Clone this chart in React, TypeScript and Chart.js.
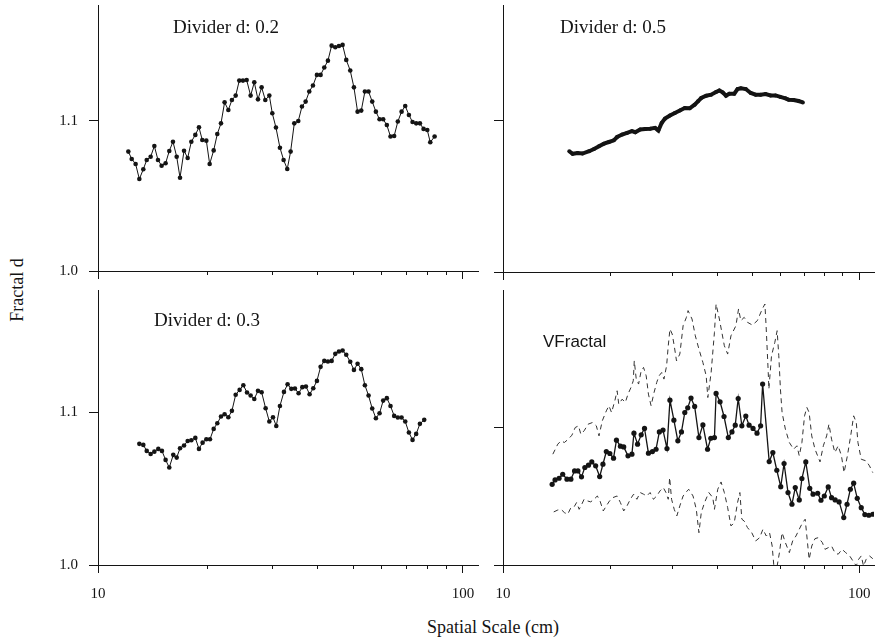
import React, { useEffect, useRef } from "react";
import { Chart, registerables } from "chart.js";

Chart.register(...registerables);

// ---------- tick values ----------
const X_MAJOR = [10, 100];
const X_MINOR = [20, 30, 40, 50, 60, 70, 80, 90];
const Y_TICKS = [1.0, 1.1];

// ---------- Divider d: 0.2 ----------
const D02_X = [12.11, 12.37, 12.68, 12.98, 13.31, 13.6, 13.94, 14.27, 14.6, 14.94, 15.32, 15.68, 16.05, 16.43, 16.78, 17.21, 17.61, 18.02, 18.48, 18.91, 19.31, 19.81, 20.23, 20.75, 21.23, 21.73, 22.23, 22.76, 23.28, 23.84, 24.39, 24.96, 25.55, 26.2, 26.81, 27.44, 28.08, 28.74, 29.48, 30.04, 30.74, 31.52, 32.26, 33.01, 33.72, 34.51, 35.39, 36.22, 37.07, 37.93, 38.82, 39.81, 40.74, 41.7, 42.67, 43.68, 44.7, 45.74, 46.81, 47.9, 49.12, 50.28, 51.45, 52.66, 53.88, 55.14, 56.43, 57.75, 59.1, 60.47, 61.88, 63.33, 64.81, 66.32, 67.92, 69.5, 71.13, 72.78, 74.47, 76.24, 78.02, 79.87, 81.39, 83.65];
const D02_Y = [1.0796, 1.0747, 1.0713, 1.0613, 1.0678, 1.074, 1.0762, 1.0833, 1.074, 1.0702, 1.0718, 1.08, 1.0862, 1.0762, 1.0622, 1.0802, 1.0753, 1.0862, 1.0907, 1.0958, 1.0873, 1.0869, 1.0713, 1.0804, 1.0913, 1.0984, 1.1124, 1.1073, 1.114, 1.1169, 1.1269, 1.1269, 1.1273, 1.1169, 1.1258, 1.1144, 1.1224, 1.114, 1.1169, 1.1051, 1.0956, 1.0822, 1.074, 1.068, 1.0796, 1.0984, 1.1, 1.1096, 1.1129, 1.1196, 1.1236, 1.1307, 1.1307, 1.1356, 1.1402, 1.1502, 1.1491, 1.15, 1.1507, 1.1407, 1.1336, 1.1224, 1.1062, 1.1069, 1.1196, 1.1196, 1.1129, 1.1062, 1.1011, 1.1011, 1.0973, 1.0896, 1.09, 1.0996, 1.1062, 1.11, 1.104, 1.0993, 1.0984, 1.0984, 1.0947, 1.094, 1.0858, 1.0896];

// ---------- Divider d: 0.5 ----------
const D05_X = [15.35, 15.68, 16.19, 16.72, 17.45, 18.01, 18.6, 19.2, 19.83, 20.47, 20.91, 21.6, 22.29, 23.01, 23.51, 24.27, 25.06, 25.88, 26.72, 27.3, 27.88, 28.49, 29.42, 30.37, 31.36, 32.38, 33.43, 34.51, 35.26, 36.01, 37.19, 38.39, 39.63, 40.49, 41.37, 42.26, 43.17, 44.58, 45.54, 46.52, 48.03, 49.59, 51.2, 52.87, 54.58, 56.36, 58.19, 60.08, 62.03, 63.37, 65.43, 67.55, 69.45];
const D05_Y = [1.0796, 1.0779, 1.0785, 1.0781, 1.0796, 1.0811, 1.0829, 1.0846, 1.0857, 1.0868, 1.089, 1.0906, 1.0917, 1.0928, 1.0921, 1.0939, 1.0943, 1.0945, 1.095, 1.0932, 1.0982, 1.1011, 1.1031, 1.1048, 1.1064, 1.1081, 1.1079, 1.1103, 1.1125, 1.1147, 1.1162, 1.1169, 1.1186, 1.1197, 1.1184, 1.1162, 1.1175, 1.1175, 1.1206, 1.1211, 1.1206, 1.118, 1.1169, 1.1169, 1.1173, 1.1164, 1.1164, 1.1154, 1.1145, 1.1136, 1.1134, 1.1127, 1.1118];

// ---------- Divider d: 0.3 ----------
const D03_X = [12.98, 13.31, 13.6, 13.94, 14.27, 14.63, 14.97, 15.32, 15.68, 16.08, 16.43, 16.78, 17.21, 17.61, 18.02, 18.48, 18.91, 19.35, 19.81, 20.27, 20.75, 21.23, 21.73, 22.23, 22.76, 23.28, 23.84, 24.44, 25.02, 25.61, 26.2, 26.81, 27.44, 28.08, 28.8, 29.48, 30.17, 30.8, 31.52, 32.33, 33.08, 33.86, 34.65, 35.46, 36.3, 37.14, 38.01, 38.9, 39.81, 40.74, 41.7, 42.67, 43.68, 44.7, 45.74, 46.81, 47.9, 49.12, 50.28, 51.45, 52.66, 53.88, 55.14, 56.43, 57.75, 59.1, 60.47, 61.88, 63.33, 64.81, 66.32, 67.92, 69.5, 71.13, 72.78, 74.47, 76.24, 78.35];
const D03_Y = [1.0793, 1.0786, 1.0747, 1.0727, 1.0742, 1.076, 1.0747, 1.0688, 1.0638, 1.0721, 1.0703, 1.0764, 1.0782, 1.0812, 1.0817, 1.0832, 1.076, 1.0801, 1.0823, 1.0823, 1.0891, 1.0928, 1.0972, 1.0987, 1.0967, 1.1009, 1.1114, 1.1146, 1.1177, 1.1129, 1.1109, 1.1087, 1.114, 1.1131, 1.1026, 1.0939, 1.0967, 1.091, 1.1041, 1.1133, 1.1183, 1.1153, 1.1155, 1.1124, 1.1164, 1.1168, 1.1118, 1.1157, 1.1205, 1.1297, 1.1336, 1.1332, 1.1336, 1.1382, 1.1397, 1.1404, 1.1376, 1.133, 1.1277, 1.1317, 1.1282, 1.1177, 1.1109, 1.1024, 1.0961, 1.0993, 1.1076, 1.1092, 1.1041, 1.0976, 1.0965, 1.0965, 1.0939, 1.0867, 1.0819, 1.0858, 1.0924, 1.095];

// ---------- VFractal (mean) ----------
const VF_X = [13.74, 14.0, 14.37, 14.71, 15.12, 15.51, 15.88, 16.23, 16.61, 16.97, 17.37, 17.75, 18.2, 18.68, 19.08, 19.5, 19.95, 20.43, 20.82, 21.36, 21.82, 22.43, 23.01, 23.31, 23.86, 24.43, 24.96, 25.6, 26.27, 26.89, 27.47, 28.13, 28.86, 29.42, 30.18, 30.96, 31.69, 32.38, 33.0, 33.71, 34.51, 35.48, 36.4, 37.51, 38.31, 39.22, 39.64, 40.67, 41.73, 42.9, 43.92, 44.87, 45.73, 46.82, 48.03, 49.07, 50.34, 51.64, 52.86, 53.55, 55.88, 57.21, 58.69, 60.21, 61.51, 63.1, 64.73, 66.13, 67.86, 69.03, 70.79, 72.62, 74.19, 76.43, 78.08, 79.77, 81.84, 83.61, 85.59, 87.8, 90.47, 92.41, 94.41, 96.45, 98.72, 101.29, 103.69, 106.38, 109.14];
const VF_Y = [1.0587, 1.0619, 1.0631, 1.066, 1.0624, 1.0624, 1.0684, 1.0684, 1.0641, 1.0709, 1.0726, 1.075, 1.0721, 1.0643, 1.0733, 1.0825, 1.0811, 1.0777, 1.0908, 1.0864, 1.0859, 1.0794, 1.0806, 1.0959, 1.0879, 1.0947, 1.0993, 1.0813, 1.0825, 1.0842, 1.0968, 1.0981, 1.0847, 1.1199, 1.1053, 1.0903, 1.0968, 1.1109, 1.1143, 1.1214, 1.1153, 1.0927, 1.1019, 1.0842, 1.0922, 1.0927, 1.1248, 1.1187, 1.108, 1.0927, 1.0968, 1.1017, 1.1211, 1.1012, 1.1083, 1.1017, 1.0993, 1.0959, 1.1012, 1.1316, 1.0752, 1.0818, 1.0689, 1.057, 1.0738, 1.0527, 1.0442, 1.0563, 1.0473, 1.0629, 1.075, 1.0558, 1.0515, 1.0522, 1.0471, 1.0502, 1.0568, 1.049, 1.0473, 1.0459, 1.0345, 1.0442, 1.0551, 1.0595, 1.0485, 1.0417, 1.0367, 1.0362, 1.0369];

// ---------- VFractal upper bound ----------
const VF_UP_X = [13.8, 14.25, 14.55, 14.87, 15.25, 15.61, 15.95, 16.29, 16.54, 16.89, 17.33, 17.82, 18.28, 18.6, 19.0, 19.5, 19.83, 20.17, 20.6, 20.91, 21.13, 21.6, 22.05, 22.43, 22.87, 23.21, 23.36, 23.66, 24.02, 24.43, 24.8, 25.23, 25.6, 26.04, 26.55, 27.01, 27.42, 27.89, 28.3, 28.79, 29.1, 29.42, 29.85, 30.24, 30.69, 31.36, 32.03, 32.72, 33.07, 33.93, 34.66, 35.48, 36.4, 37.18, 37.58, 38.39, 39.22, 39.64, 40.49, 41.81, 42.72, 43.64, 45.06, 45.83, 46.52, 47.53, 48.56, 50.12, 51.75, 53.43, 54.35, 54.82, 55.53, 55.76, 56.72, 57.94, 58.82, 59.45, 60.08, 60.73, 62.03, 63.64, 65.43, 66.83, 67.86, 69.03, 70.22, 71.27, 72.33, 73.56, 75.13, 77.6, 79.28, 80.99, 82.21, 83.61, 85.42, 87.25, 89.13, 90.66, 92.61, 94.61, 96.45, 98.1, 99.15, 101.29, 104.57, 106.83, 109.14];
const VF_UP_Y = [1.0806, 1.0879, 1.0903, 1.0891, 1.0915, 1.0944, 1.1, 1.1012, 1.0951, 1.0976, 1.1024, 1.1036, 1.1012, 1.0939, 1.1049, 1.1121, 1.1158, 1.1109, 1.1194, 1.1267, 1.117, 1.1206, 1.1182, 1.1243, 1.1291, 1.134, 1.1485, 1.1352, 1.1316, 1.1413, 1.1437, 1.1376, 1.1243, 1.1158, 1.1255, 1.1328, 1.1376, 1.14, 1.1352, 1.1449, 1.1595, 1.1716, 1.168, 1.1595, 1.1485, 1.1534, 1.174, 1.1801, 1.185, 1.1789, 1.1667, 1.157, 1.1473, 1.1376, 1.1218, 1.14, 1.1692, 1.1898, 1.1789, 1.1595, 1.1534, 1.1667, 1.174, 1.1862, 1.1777, 1.1801, 1.1765, 1.1745, 1.1777, 1.1862, 1.1898, 1.1716, 1.14, 1.1279, 1.1522, 1.1619, 1.1704, 1.1522, 1.1279, 1.1109, 1.0988, 1.0891, 1.0842, 1.0867, 1.0794, 1.0891, 1.1085, 1.1146, 1.1109, 1.0939, 1.0842, 1.075, 1.0867, 1.0939, 1.1024, 1.0915, 1.0818, 1.0867, 1.0794, 1.0672, 1.0794, 1.0939, 1.1085, 1.1036, 1.0891, 1.0769, 1.0757, 1.0721, 1.0672];

// ---------- VFractal lower bound ----------
const VF_LO_X = [13.88, 14.25, 14.55, 14.87, 15.19, 15.51, 15.85, 16.09, 16.36, 16.64, 16.89, 17.26, 17.63, 18.01, 18.4, 18.72, 19.12, 19.5, 19.91, 20.34, 20.91, 21.36, 21.82, 22.29, 22.77, 23.26, 23.76, 24.27, 24.8, 25.33, 25.88, 26.44, 27.01, 27.59, 28.18, 28.67, 29.1, 29.36, 29.73, 30.24, 30.76, 31.36, 32.03, 32.59, 33.21, 34.15, 34.88, 35.48, 36.02, 36.79, 37.82, 38.8, 39.22, 40.07, 40.93, 41.81, 42.72, 43.64, 44.58, 45.54, 46.23, 46.82, 47.53, 48.56, 49.92, 51.2, 52.53, 53.66, 54.82, 56.0, 56.96, 57.58, 58.82, 59.7, 60.73, 62.03, 63.64, 65.01, 66.43, 67.86, 69.32, 70.51, 71.27, 72.33, 73.56, 75.13, 76.78, 78.78, 80.13, 81.84, 83.61, 85.42, 87.25, 89.51, 91.62, 94.0, 96.03, 98.1, 99.57, 101.29, 102.8, 104.57, 106.83, 109.14];
const VF_LO_Y = [1.0386, 1.04, 1.0405, 1.0381, 1.0369, 1.0417, 1.0425, 1.0454, 1.0405, 1.0442, 1.0478, 1.0466, 1.0459, 1.0478, 1.0502, 1.0466, 1.0393, 1.043, 1.0466, 1.049, 1.0502, 1.0454, 1.0393, 1.043, 1.0478, 1.0515, 1.0478, 1.0527, 1.0515, 1.0502, 1.0527, 1.0478, 1.0502, 1.0539, 1.0563, 1.0527, 1.0478, 1.0636, 1.0478, 1.0405, 1.0357, 1.043, 1.0502, 1.0527, 1.0551, 1.0502, 1.0405, 1.0235, 1.0381, 1.0454, 1.0527, 1.049, 1.0405, 1.0551, 1.0604, 1.0527, 1.0417, 1.0284, 1.0308, 1.0454, 1.0527, 1.0333, 1.032, 1.0272, 1.0235, 1.0175, 1.0199, 1.026, 1.0211, 1.0235, 1.0138, 0.9993, 0.9993, 1.009, 1.0235, 1.0163, 1.009, 1.0175, 1.0211, 1.026, 1.0308, 1.0333, 1.0211, 1.0041, 1.0138, 1.0192, 1.0199, 1.0163, 1.0114, 1.0126, 1.0138, 1.009, 1.0078, 1.0114, 1.009, 1.0066, 1.0029, 0.9993, 1.0041, 1.0066, 0.9993, 1.0041, 1.0066, 1.0046];

// ---------- layout ----------
const INK = "#141414";
const SERIF = "'Liberation Serif', 'Times New Roman', serif";
const SANS = "'Liberation Sans', Arial, sans-serif";
const PAD_L = 60;
const PAD_T = 6;
const PAD_B = 40;

type Area = { left: number; top: number; right: number; bottom: number };

const toPts = (xs: number[], ys: number[]) => xs.map((x, i) => ({ x, y: ys[i] }));

const dotted = (xs: number[], ys: number[], lw: number, r: number) => ({
  data: toPts(xs, ys),
  xAxisID: "x",
  yAxisID: "y",
  borderColor: INK,
  backgroundColor: INK,
  borderWidth: lw,
  pointRadius: r,
  pointBorderWidth: 0,
  pointBackgroundColor: INK,
  tension: 0,
});

const dashed = (xs: number[], ys: number[]) => ({
  data: toPts(xs, ys),
  xAxisID: "x",
  yAxisID: "y",
  borderColor: "#333333",
  borderWidth: 1,
  borderDash: [5, 4],
  pointRadius: 0,
  tension: 0,
});

function Panel(props: { area: Area; yMax: number; yLabels: boolean; xLabels: boolean; datasets: any[] }) {
  const { area, yMax, yLabels, xLabels, datasets } = props;
  const ref = useRef<HTMLCanvasElement | null>(null);
  const padR = area.right >= 878 ? 0 : 8;
  const w = area.right - area.left + PAD_L + padR;
  const h = area.bottom - area.top + PAD_T + PAD_B;

  useEffect(() => {
    if (!ref.current) return;
    const zeroPad = (s: any) => {
      s.paddingLeft = 0;
      s.paddingRight = 0;
      s.paddingTop = 0;
      s.paddingBottom = 0;
    };
    const chart = new Chart(ref.current, {
      type: "line",
      data: { datasets },
      options: {
        responsive: false,
        animation: false,
        events: [],
        layout: { padding: { top: PAD_T, right: padR, left: 0, bottom: 0 } },
        plugins: { legend: { display: false }, tooltip: { enabled: false }, title: { display: false } },
        scales: {
          xMinor: {
            type: "logarithmic",
            position: "bottom",
            weight: 0,
            min: 10,
            max: 110,
            afterBuildTicks: (a: any) => {
              a.ticks = X_MINOR.map((v) => ({ value: v }));
            },
            ticks: { display: false },
            grid: { drawOnChartArea: false, drawTicks: true, tickLength: 4, color: INK, lineWidth: 1 },
            border: { display: false },
            afterFit: (s: any) => {
              s.height = 0;
              zeroPad(s);
            },
          },
          x: {
            type: "logarithmic",
            position: "bottom",
            weight: 1,
            min: 10,
            max: 110,
            afterBuildTicks: (a: any) => {
              a.ticks = X_MAJOR.map((v) => ({ value: v }));
            },
            ticks: {
              display: xLabels,
              autoSkip: false,
              maxRotation: 0,
              padding: 12,
              color: INK,
              font: { family: SERIF, size: 15 },
              callback: (v: any) => String(v),
            },
            grid: { drawOnChartArea: false, drawTicks: true, tickLength: 8, color: INK, lineWidth: 1 },
            border: { display: true, color: INK, width: 1 },
            afterFit: (s: any) => {
              s.height = PAD_B;
              zeroPad(s);
            },
          },
          y: {
            type: "linear",
            position: "left",
            min: 1.0,
            max: yMax,
            afterBuildTicks: (a: any) => {
              a.ticks = Y_TICKS.map((v) => ({ value: v }));
            },
            ticks: {
              display: yLabels,
              padding: 11,
              color: INK,
              font: { family: SERIF, size: 15 },
              callback: (v: any) => Number(v).toFixed(1),
            },
            grid: { drawOnChartArea: false, drawTicks: true, tickLength: 9, color: INK, lineWidth: 1 },
            border: { display: true, color: INK, width: 1 },
            afterFit: (s: any) => {
              s.width = PAD_L;
              zeroPad(s);
            },
          },
        },
      } as any,
    });
    return () => chart.destroy();
  }, []);

  return (
    <canvas
      ref={ref}
      width={w}
      height={h}
      style={{ position: "absolute", left: area.left - PAD_L, top: area.top - PAD_T, width: w, height: h }}
    />
  );
}

const label = (text: string, left: number, top: number, font: string, size: number) => (
  <div
    style={{
      position: "absolute",
      left,
      top,
      fontFamily: font,
      fontSize: size,
      lineHeight: 1,
      color: INK,
      whiteSpace: "nowrap",
    }}
  >
    {text}
  </div>
);

export default function App() {
  return (
    <div
      style={{
        position: "absolute",
        left: 0,
        top: 0,
        width: 878,
        height: 638,
        background: "#ffffff",
        overflow: "hidden",
      }}
    >
      <Panel
        area={{ left: 98, top: 5, right: 478, bottom: 271 }}
        yMax={1.1773}
        yLabels={true}
        xLabels={false}
        datasets={[dotted(D02_X, D02_Y, 1, 2.3)]}
      />
      <Panel
        area={{ left: 503, top: 5, right: 878, bottom: 272 }}
        yMax={1.176}
        yLabels={false}
        xLabels={false}
        datasets={[dotted(D05_X, D05_Y, 4, 2)]}
      />
      <Panel
        area={{ left: 98, top: 290, right: 478, bottom: 565 }}
        yMax={1.18}
        yLabels={true}
        xLabels={true}
        datasets={[dotted(D03_X, D03_Y, 1, 2.3)]}
      />
      <Panel
        area={{ left: 503, top: 290, right: 878, bottom: 565 }}
        yMax={1.2}
        yLabels={false}
        xLabels={true}
        datasets={[dashed(VF_UP_X, VF_UP_Y), dashed(VF_LO_X, VF_LO_Y), dotted(VF_X, VF_Y, 1.3, 2.6)]}
      />

      {label("Divider d: 0.2", 173, 17, SERIF, 19)}
      {label("Divider d: 0.5", 560, 17, SERIF, 19)}
      {label("Divider d: 0.3", 154, 310, SERIF, 19)}
      {label("VFractal", 543, 333, SANS, 17)}

      <div
        style={{
          position: "absolute",
          left: 493,
          top: 618,
          transform: "translateX(-50%)",
          fontFamily: SERIF,
          fontSize: 18,
          lineHeight: 1,
          color: INK,
          whiteSpace: "nowrap",
        }}
      >
        Spatial Scale (cm)
      </div>
      <div
        style={{
          position: "absolute",
          left: 17,
          top: 290,
          transform: "translate(-50%, -50%) rotate(-90deg)",
          fontFamily: SERIF,
          fontSize: 18,
          lineHeight: 1,
          color: INK,
          whiteSpace: "nowrap",
        }}
      >
        Fractal d
      </div>
    </div>
  );
}
